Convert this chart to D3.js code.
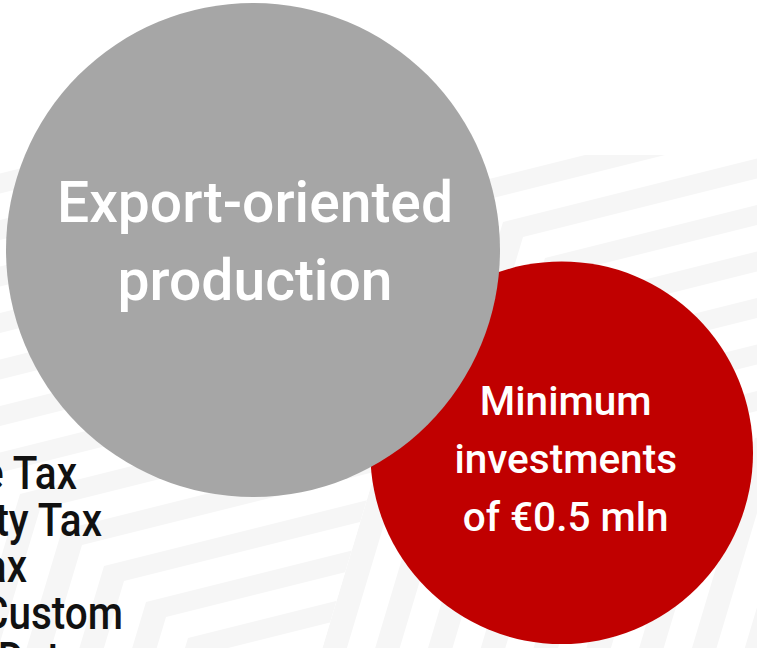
<!DOCTYPE html>
<html>
<head>
<meta charset="utf-8">
<script src="https://cdn.jsdelivr.net/npm/d3@7"></script>
<style>
    body { margin: 0; background: #fff; }
    svg { display: block; }
    .bgBand { fill: #f6f6f6; }
    .circleLabel { font-family: Roboto, "DejaVu Sans", sans-serif; font-weight: 500; fill: #fff; text-anchor: middle; }
    .listLabel { font-family: Roboto, "DejaVu Sans", sans-serif; font-weight: 500; fill: #111; text-anchor: end; font-size: 46px; }
</style>
</head>
<body>
<script>
(function(){

//circle names, one line per array entry
var circleLabels = [
    ["Export-oriented", "production"],
    ["Minimum", "investments", "of €0.5 mln"]
];
//relative size of each circle
var circleValues = [100, 60];
var circleColors = ["#a6a6a6", "#c00000"];

//benefit list on the left (runs off the page)
var listLines = ["Income Tax", "Property Tax", "Land Tax", "Custom", "Duty"];

//background chevron bands
var bandIndexA = d3.range(-1, 9);
var bandIndexB = d3.range(-10, 4);

window.onload = setMap();

function setMap(){
    var width = 757,
        height = 648;

    var svg = d3.select("body")
        .append("svg")
        .attr("width", width)
        .attr("height", height);

    setBackground(svg, width, height);

    //radius scale: area proportional to value
    var rScale = d3.scaleSqrt()
        .domain([0, d3.max(circleValues)])
        .range([0, 247]);

    //place the big circle in the top left, the small one down to the right
    var r0 = rScale(circleValues[0]),
        r1 = rScale(circleValues[1]),
        angle = 33.3 * Math.PI / 180,
        overlap = 69;
    var c0 = [r0 + 6, r0 + 3];
    var dist = r0 + r1 - overlap;
    var c1 = [c0[0] + dist * Math.cos(angle), c0[1] + dist * Math.sin(angle)];

    var circles = circleValues.map(function(v, i){
        return {
            value: v,
            r: rScale(v),
            c: i == 0 ? c0 : c1,
            color: circleColors[i],
            lines: circleLabels[i]
        };
    });

    setList(svg);

    //draw red one first, grey one sits on top
    var nodes = svg.selectAll(".node")
        .data(circles.slice().reverse())
        .enter()
        .append("g")
        .attr("class", "node")
        .attr("transform", function(d){
            return "translate(" + d.c[0] + "," + d.c[1] + ")";
        });

    nodes.append("circle")
        .attr("r", function(d){ return d.r; })
        .style("fill", function(d){ return d.color; });

    //label settings per circle: font size, line step, first baseline, x shift
    var labelStyle = [
        {size: 57, step: 78, first: -28, dx: 2},
        {size: 40.5, step: 58, first: -38, dx: 4}
    ];

    nodes.each(function(d){
        var st = labelStyle[circles.indexOf(d)];
        d3.select(this).selectAll("text")
            .data(d.lines)
            .enter()
            .append("text")
            .attr("class", "circleLabel")
            .attr("x", st.dx)
            .attr("y", function(t, i){ return st.first + i * st.step; })
            .style("font-size", st.size + "px")
            .text(function(t){ return t; });
    });
};

function setList(svg){
    //right edge of each line, lines are cut by the page edge
    var lineEnds = [77, 102, 27, 123, 80];
    var y = d3.scaleLinear()
        .domain([0, 1])
        .range([489, 535.5]);

    svg.selectAll(".listLabel")
        .data(listLines)
        .enter()
        .append("text")
        .attr("class", "listLabel")
        .attr("transform", function(d, i){
            return "translate(" + lineEnds[i] + "," + y(i) + ") scale(0.88,1)";
        })
        .text(function(d){ return d; });
};

function setBackground(svg, width, height){
    var steep = [-0.3, 1],
        shallow = [1, -0.25],
        step = [42, 36],
        inner = [20, 15];

    function band(base, k){
        var o = [base[0] + k * step[0], base[1] + k * step[1]];
        var n = [o[0] + inner[0], o[1] + inner[1]];
        var pts = [
            [o[0] + steep[0] * 1200, o[1] + steep[1] * 1200],
            o,
            [o[0] + shallow[0] * 2000, o[1] + shallow[1] * 2000],
            [n[0] + shallow[0] * 2000, n[1] + shallow[1] * 2000],
            n,
            [n[0] + steep[0] * 1200, n[1] + steep[1] * 1200]
        ];
        return "M" + pts.join("L") + "Z";
    };

    //split line between the two chevron groups
    var split = function(yy){ return 461 - 0.3 * (yy - 186); };
    var top = 155;

    var defs = svg.append("defs");
    defs.append("clipPath").attr("id", "clipA")
        .append("path")
        .attr("d", "M" + [[split(top), top], [width, top], [width, height], [split(height), height]].join("L") + "Z");
    defs.append("clipPath").attr("id", "clipB")
        .append("path")
        .attr("d", "M" + [[0, top], [split(top), top], [split(height), height], [0, height]].join("L") + "Z");

    svg.append("g")
        .attr("clip-path", "url(#clipA)")
        .selectAll("path")
        .data(bandIndexA)
        .enter()
        .append("path")
        .attr("class", "bgBand")
        .attr("d", function(k){ return band([503, 222], k); });

    svg.append("g")
        .attr("clip-path", "url(#clipB)")
        .selectAll("path")
        .data(bandIndexB)
        .enter()
        .append("path")
        .attr("class", "bgBand")
        .attr("d", function(k){ return band([104, 566], k); });
};

})();
</script>
</body>
</html>
